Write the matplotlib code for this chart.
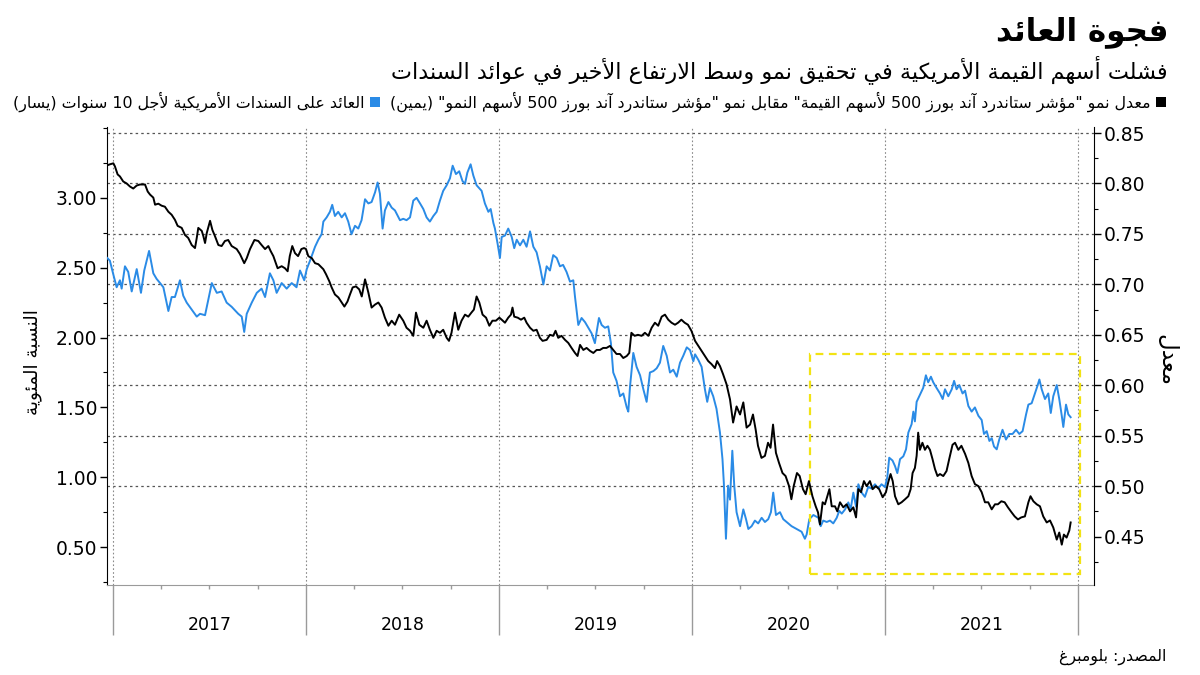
import re
import matplotlib
matplotlib.use("Agg")
import matplotlib.pyplot as plt
from matplotlib.patches import Rectangle
from matplotlib.lines import Line2D
from matplotlib.transforms import blended_transform_factory
from matplotlib.ticker import MultipleLocator, FormatStrFormatter

W, H = 1200, 675

# time is in decimal years
blue_time = [
    2016.970, 2016.984, 2017.002, 2017.019, 2017.036, 2017.045, 2017.062, 2017.079, 2017.097, 2017.123,
    2017.145, 2017.162, 2017.187, 2017.209, 2017.226, 2017.244, 2017.261, 2017.287, 2017.304, 2017.321,
    2017.347, 2017.364, 2017.382, 2017.408, 2017.434, 2017.451, 2017.477, 2017.512, 2017.538, 2017.563,
    2017.589, 2017.615, 2017.649, 2017.667, 2017.680, 2017.693, 2017.719, 2017.745, 2017.770, 2017.788,
    2017.813, 2017.831, 2017.848, 2017.874, 2017.900, 2017.926, 2017.951, 2017.969, 2017.991, 2018.004,
    2018.021, 2018.047, 2018.064, 2018.081, 2018.090, 2018.107, 2018.124, 2018.136, 2018.150, 2018.167,
    2018.185, 2018.202, 2018.219, 2018.236, 2018.254, 2018.271, 2018.288, 2018.306, 2018.323, 2018.340,
    2018.358, 2018.371, 2018.383, 2018.397, 2018.409, 2018.427, 2018.444, 2018.461, 2018.487, 2018.504,
    2018.521, 2018.539, 2018.556, 2018.573, 2018.591, 2018.608, 2018.625, 2018.642, 2018.660, 2018.677,
    2018.694, 2018.711, 2018.729, 2018.746, 2018.760, 2018.777, 2018.794, 2018.811, 2018.824, 2018.836,
    2018.853, 2018.867, 2018.884, 2018.910, 2018.927, 2018.945, 2018.957, 2018.971, 2018.979, 2018.993,
    2019.005, 2019.014, 2019.031, 2019.048, 2019.066, 2019.079, 2019.092, 2019.109, 2019.126, 2019.143,
    2019.161, 2019.178, 2019.195, 2019.212, 2019.230, 2019.247, 2019.264, 2019.281, 2019.299, 2019.316,
    2019.332, 2019.350, 2019.368, 2019.385, 2019.394, 2019.411, 2019.428, 2019.446, 2019.463, 2019.480,
    2019.497, 2019.506, 2019.518, 2019.532, 2019.549, 2019.566, 2019.580, 2019.592, 2019.609, 2019.627,
    2019.644, 2019.662, 2019.670, 2019.679, 2019.696, 2019.713, 2019.731, 2019.748, 2019.765, 2019.782,
    2019.800, 2019.817, 2019.834, 2019.851, 2019.869, 2019.886, 2019.903, 2019.921, 2019.938, 2019.955,
    2019.973, 2019.990, 2020.007, 2020.016, 2020.033, 2020.050, 2020.067, 2020.079, 2020.093, 2020.110,
    2020.127, 2020.145, 2020.158, 2020.165, 2020.176, 2020.187, 2020.197, 2020.209, 2020.219, 2020.231,
    2020.249, 2020.266, 2020.280, 2020.292, 2020.309, 2020.326, 2020.343, 2020.361, 2020.378, 2020.395,
    2020.409, 2020.421, 2020.435, 2020.456, 2020.473, 2020.490, 2020.516, 2020.542, 2020.568, 2020.585,
    2020.594, 2020.608, 2020.629, 2020.655, 2020.667, 2020.680, 2020.698, 2020.715, 2020.732, 2020.750,
    2020.763, 2020.776, 2020.793, 2020.810, 2020.822, 2020.836, 2020.850, 2020.862, 2020.879, 2020.896,
    2020.913, 2020.930, 2020.948, 2020.965, 2020.982, 2021.000, 2021.012, 2021.022, 2021.039, 2021.052,
    2021.064, 2021.078, 2021.095, 2021.109, 2021.121, 2021.138, 2021.147, 2021.155, 2021.164, 2021.181,
    2021.198, 2021.212, 2021.224, 2021.238, 2021.250, 2021.267, 2021.285, 2021.299, 2021.311, 2021.328,
    2021.346, 2021.358, 2021.371, 2021.385, 2021.402, 2021.415, 2021.432, 2021.449, 2021.466, 2021.484,
    2021.501, 2021.513, 2021.527, 2021.541, 2021.553, 2021.565, 2021.579, 2021.592, 2021.609, 2021.627,
    2021.644, 2021.661, 2021.679, 2021.696, 2021.713, 2021.731, 2021.743, 2021.760, 2021.777, 2021.789,
    2021.800, 2021.812, 2021.829, 2021.846, 2021.859, 2021.872, 2021.890, 2021.903, 2021.916, 2021.924,
    2021.938, 2021.950, 2021.962,
]
# US 10-year yield, %, left axis
blue_yield = [
    2.57, 2.55, 2.45, 2.36, 2.41, 2.35, 2.51, 2.47, 2.33, 2.49,
    2.32, 2.48, 2.62, 2.46, 2.42, 2.39, 2.36, 2.19, 2.29, 2.29,
    2.41, 2.30, 2.25, 2.20, 2.15, 2.17, 2.16, 2.39, 2.32, 2.33,
    2.25, 2.22, 2.17, 2.15, 2.04, 2.17, 2.25, 2.32, 2.35, 2.29,
    2.46, 2.41, 2.32, 2.39, 2.35, 2.39, 2.36, 2.48, 2.41, 2.49,
    2.55, 2.65, 2.70, 2.74, 2.83, 2.86, 2.90, 2.95, 2.87, 2.90,
    2.86, 2.89, 2.83, 2.74, 2.80, 2.78, 2.84, 2.99, 2.96, 2.97,
    3.04, 3.11, 3.03, 2.78, 2.91, 2.97, 2.93, 2.91, 2.84, 2.85,
    2.84, 2.86, 2.98, 3.00, 2.96, 2.92, 2.86, 2.83, 2.87, 2.90,
    2.98, 3.05, 3.09, 3.14, 3.23, 3.17, 3.19, 3.12, 3.10, 3.18,
    3.24, 3.16, 3.09, 3.05, 2.96, 2.90, 2.92, 2.82, 2.78, 2.67,
    2.57, 2.72, 2.73, 2.78, 2.72, 2.64, 2.70, 2.66, 2.70, 2.65,
    2.76, 2.65, 2.61, 2.51, 2.38, 2.51, 2.48, 2.59, 2.57, 2.51,
    2.52, 2.47, 2.40, 2.41, 2.29, 2.09, 2.14, 2.11, 2.07, 2.03,
    1.96, 2.04, 2.14, 2.09, 2.07, 2.08, 1.96, 1.75, 1.69, 1.58,
    1.60, 1.50, 1.47, 1.65, 1.89, 1.79, 1.73, 1.63, 1.54, 1.75,
    1.76, 1.78, 1.82, 1.94, 1.87, 1.75, 1.77, 1.72, 1.82, 1.87,
    1.93, 1.91, 1.83, 1.88, 1.84, 1.79, 1.63, 1.54, 1.64, 1.58,
    1.49, 1.32, 1.13, 0.96, 0.56, 0.94, 0.84, 1.19, 0.94, 0.75,
    0.65, 0.77, 0.70, 0.63, 0.65, 0.69, 0.67, 0.71, 0.68, 0.70,
    0.75, 0.89, 0.73, 0.75, 0.70, 0.68, 0.65, 0.63, 0.61, 0.56,
    0.59, 0.70, 0.73, 0.71, 0.65, 0.69, 0.68, 0.69, 0.67, 0.71,
    0.76, 0.74, 0.77, 0.82, 0.77, 0.89, 0.79, 0.95, 0.89, 0.86,
    0.93, 0.92, 0.95, 0.92, 0.95, 0.93, 1.00, 1.14, 1.12, 1.08,
    1.03, 1.13, 1.15, 1.20, 1.32, 1.38, 1.47, 1.40, 1.54, 1.59,
    1.64, 1.73, 1.68, 1.72, 1.68, 1.64, 1.60, 1.56, 1.63, 1.58,
    1.63, 1.69, 1.63, 1.66, 1.60, 1.62, 1.51, 1.47, 1.50, 1.44,
    1.41, 1.31, 1.33, 1.26, 1.28, 1.22, 1.20, 1.27, 1.34, 1.27,
    1.31, 1.31, 1.34, 1.31, 1.33, 1.45, 1.52, 1.53, 1.60, 1.65,
    1.70, 1.63, 1.56, 1.60, 1.46, 1.58, 1.66, 1.56, 1.44, 1.36,
    1.52, 1.45, 1.43,
]

black_time = [
    2016.970, 2016.984, 2017.002, 2017.010, 2017.024, 2017.036, 2017.053, 2017.071, 2017.088, 2017.105,
    2017.123, 2017.140, 2017.166, 2017.180, 2017.192, 2017.209, 2017.218, 2017.235, 2017.252, 2017.269,
    2017.287, 2017.304, 2017.321, 2017.335, 2017.356, 2017.373, 2017.390, 2017.408, 2017.425, 2017.434,
    2017.442, 2017.460, 2017.468, 2017.477, 2017.486, 2017.503, 2017.515, 2017.528, 2017.546, 2017.563,
    2017.580, 2017.597, 2017.615, 2017.641, 2017.658, 2017.680, 2017.693, 2017.710, 2017.733, 2017.753,
    2017.770, 2017.788, 2017.805, 2017.817, 2017.831, 2017.853, 2017.874, 2017.891, 2017.905, 2017.916,
    2017.929, 2017.943, 2017.959, 2017.976, 2017.990, 2018.000, 2018.012, 2018.030, 2018.047, 2018.064,
    2018.090, 2018.104, 2018.121, 2018.133, 2018.150, 2018.168, 2018.185, 2018.199, 2018.215, 2018.228,
    2018.242, 2018.259, 2018.276, 2018.289, 2018.306, 2018.323, 2018.340, 2018.358, 2018.375, 2018.392,
    2018.409, 2018.427, 2018.444, 2018.461, 2018.483, 2018.504, 2018.521, 2018.539, 2018.556, 2018.570,
    2018.587, 2018.608, 2018.625, 2018.642, 2018.660, 2018.677, 2018.694, 2018.711, 2018.729, 2018.741,
    2018.754, 2018.772, 2018.789, 2018.806, 2018.824, 2018.841, 2018.857, 2018.870, 2018.884, 2018.898,
    2018.915, 2018.933, 2018.950, 2018.966, 2018.984, 2019.002, 2019.014, 2019.031, 2019.048, 2019.062,
    2019.070, 2019.079, 2019.097, 2019.114, 2019.131, 2019.143, 2019.161, 2019.178, 2019.195, 2019.212,
    2019.226, 2019.247, 2019.264, 2019.281, 2019.293, 2019.307, 2019.324, 2019.342, 2019.359, 2019.376,
    2019.394, 2019.407, 2019.420, 2019.437, 2019.454, 2019.472, 2019.489, 2019.506, 2019.523, 2019.540,
    2019.557, 2019.575, 2019.592, 2019.609, 2019.627, 2019.644, 2019.662, 2019.675, 2019.686, 2019.703,
    2019.720, 2019.739, 2019.756, 2019.774, 2019.791, 2019.808, 2019.825, 2019.843, 2019.860, 2019.877,
    2019.894, 2019.912, 2019.928, 2019.945, 2019.962, 2019.979, 2019.997, 2020.016, 2020.033, 2020.050,
    2020.067, 2020.084, 2020.101, 2020.119, 2020.130, 2020.145, 2020.161, 2020.179, 2020.197, 2020.213,
    2020.231, 2020.249, 2020.266, 2020.283, 2020.301, 2020.316, 2020.330, 2020.342, 2020.360, 2020.378,
    2020.394, 2020.407, 2020.420, 2020.435, 2020.451, 2020.469, 2020.485, 2020.503, 2020.515, 2020.527,
    2020.544, 2020.558, 2020.575, 2020.589, 2020.606, 2020.624, 2020.641, 2020.653, 2020.663, 2020.677,
    2020.689, 2020.701, 2020.712, 2020.724, 2020.741, 2020.753, 2020.767, 2020.784, 2020.801, 2020.819,
    2020.836, 2020.850, 2020.862, 2020.876, 2020.891, 2020.905, 2020.922, 2020.936, 2020.953, 2020.970,
    2020.988, 2021.005, 2021.017, 2021.029, 2021.040, 2021.052, 2021.069, 2021.086, 2021.104, 2021.121,
    2021.133, 2021.143, 2021.155, 2021.164, 2021.172, 2021.181, 2021.194, 2021.207, 2021.220, 2021.233,
    2021.246, 2021.259, 2021.272, 2021.285, 2021.302, 2021.319, 2021.333, 2021.350, 2021.363, 2021.380,
    2021.396, 2021.415, 2021.432, 2021.449, 2021.466, 2021.484, 2021.501, 2021.518, 2021.535, 2021.553,
    2021.570, 2021.585, 2021.603, 2021.620, 2021.637, 2021.656, 2021.672, 2021.689, 2021.706, 2021.725,
    2021.743, 2021.754, 2021.769, 2021.786, 2021.803, 2021.820, 2021.838, 2021.855, 2021.872, 2021.890,
    2021.903, 2021.916, 2021.927, 2021.941, 2021.955, 2021.962,
]
# S&P 500 value vs growth ratio, right axis
black_ratio = [
    0.818, 0.819, 0.820, 0.817, 0.809, 0.807, 0.802, 0.800, 0.797, 0.795,
    0.798, 0.799, 0.799, 0.792, 0.789, 0.786, 0.779, 0.780, 0.778, 0.777,
    0.772, 0.769, 0.764, 0.758, 0.756, 0.749, 0.746, 0.739, 0.736, 0.746,
    0.756, 0.753, 0.748, 0.741, 0.751, 0.763, 0.754, 0.748, 0.739, 0.738,
    0.743, 0.744, 0.738, 0.735, 0.730, 0.721, 0.726, 0.735, 0.744, 0.743,
    0.739, 0.735, 0.738, 0.733, 0.728, 0.716, 0.718, 0.716, 0.713, 0.728,
    0.738, 0.731, 0.728, 0.735, 0.736, 0.735, 0.728, 0.726, 0.721, 0.720,
    0.715, 0.710, 0.703, 0.697, 0.690, 0.687, 0.682, 0.678, 0.683, 0.690,
    0.697, 0.698, 0.695, 0.688, 0.705, 0.692, 0.677, 0.680, 0.682, 0.677,
    0.667, 0.659, 0.664, 0.660, 0.670, 0.664, 0.657, 0.654, 0.649, 0.672,
    0.660, 0.657, 0.664, 0.655, 0.647, 0.654, 0.652, 0.655, 0.647, 0.644,
    0.652, 0.672, 0.655, 0.664, 0.670, 0.668, 0.672, 0.675, 0.688, 0.682,
    0.670, 0.667, 0.659, 0.664, 0.664, 0.667, 0.665, 0.662, 0.667, 0.670,
    0.677, 0.668, 0.667, 0.665, 0.667, 0.662, 0.657, 0.654, 0.655, 0.647,
    0.644, 0.645, 0.650, 0.649, 0.654, 0.647, 0.649, 0.645, 0.642, 0.637,
    0.632, 0.629, 0.640, 0.635, 0.637, 0.634, 0.632, 0.635, 0.635, 0.637,
    0.637, 0.639, 0.635, 0.631, 0.631, 0.627, 0.629, 0.632, 0.652, 0.649,
    0.650, 0.649, 0.652, 0.649, 0.657, 0.662, 0.659, 0.668, 0.670, 0.665,
    0.662, 0.660, 0.662, 0.665, 0.662, 0.660, 0.654, 0.644, 0.639, 0.634,
    0.629, 0.624, 0.621, 0.617, 0.624, 0.619, 0.611, 0.601, 0.586, 0.563,
    0.579, 0.571, 0.583, 0.558, 0.561, 0.571, 0.556, 0.540, 0.528, 0.530,
    0.543, 0.538, 0.561, 0.533, 0.523, 0.513, 0.510, 0.500, 0.487, 0.500,
    0.513, 0.510, 0.497, 0.492, 0.505, 0.490, 0.480, 0.474, 0.462, 0.484,
    0.482, 0.490, 0.497, 0.480, 0.480, 0.475, 0.484, 0.479, 0.482, 0.475,
    0.479, 0.469, 0.497, 0.494, 0.505, 0.500, 0.505, 0.497, 0.500, 0.497,
    0.489, 0.494, 0.504, 0.512, 0.505, 0.490, 0.482, 0.484, 0.487, 0.490,
    0.497, 0.513, 0.518, 0.530, 0.553, 0.536, 0.543, 0.536, 0.540, 0.536,
    0.527, 0.517, 0.510, 0.512, 0.510, 0.515, 0.527, 0.541, 0.543, 0.536,
    0.540, 0.532, 0.523, 0.510, 0.502, 0.500, 0.494, 0.484, 0.484, 0.477,
    0.482, 0.482, 0.485, 0.484, 0.479, 0.474, 0.470, 0.467, 0.469, 0.470,
    0.484, 0.490, 0.485, 0.482, 0.480, 0.470, 0.464, 0.466, 0.459, 0.447,
    0.454, 0.442, 0.452, 0.449, 0.456, 0.464,
]

years = [2017, 2018, 2019, 2020, 2021]
left_ticks = [0.5, 1.0, 1.5, 2.0, 2.5, 3.0]
right_ticks = [0.45, 0.50, 0.55, 0.60, 0.65, 0.70, 0.75, 0.80, 0.85]
right_grid = [0.50, 0.55, 0.60, 0.65, 0.70, 0.75, 0.80, 0.85]

# highlighted window (dashed yellow box), right-axis units
box_start, box_end = 2020.611, 2022.010
box_low, box_high = 0.413, 0.6305

title = "فجوة العائد"
subtitle = "فشلت أسهم القيمة الأمريكية في تحقيق نمو وسط الارتفاع الأخير في عوائد السندات"
black_label = 'معدل نمو "مؤشر ستاندرد آند بورز 500 لأسهم القيمة" مقابل نمو "مؤشر ستاندرد آند بورز 500 لأسهم النمو" (يمين)'
blue_label = "العائد على السندات الأمريكية لأجل 10 سنوات (يسار)"
left_ylabel = "النسبة المئوية"
right_ylabel = "معدل"
source = "المصدر: بلومبرغ"

BLUE = "#2a8be6"

# --- minimal Arabic shaping (matplotlib 3.10 does no shaping / bidi) ---
# letter -> (isolated form code point, joining type: 0 none, 1 right, 2 dual)
AR = {
    'ء': (0xFE80, 0), 'آ': (0xFE81, 1), 'أ': (0xFE83, 1), 'ؤ': (0xFE85, 1), 'إ': (0xFE87, 1),
    'ئ': (0xFE89, 2), 'ا': (0xFE8D, 1), 'ب': (0xFE8F, 2), 'ة': (0xFE93, 1), 'ت': (0xFE95, 2),
    'ث': (0xFE99, 2), 'ج': (0xFE9D, 2), 'ح': (0xFEA1, 2), 'خ': (0xFEA5, 2), 'د': (0xFEA9, 1),
    'ذ': (0xFEAB, 1), 'ر': (0xFEAD, 1), 'ز': (0xFEAF, 1), 'س': (0xFEB1, 2), 'ش': (0xFEB5, 2),
    'ص': (0xFEB9, 2), 'ض': (0xFEBD, 2), 'ط': (0xFEC1, 2), 'ظ': (0xFEC5, 2), 'ع': (0xFEC9, 2),
    'غ': (0xFECD, 2), 'ف': (0xFED1, 2), 'ق': (0xFED5, 2), 'ك': (0xFED9, 2), 'ل': (0xFEDD, 2),
    'م': (0xFEE1, 2), 'ن': (0xFEE5, 2), 'ه': (0xFEE9, 2), 'و': (0xFEED, 1), 'ى': (0xFEEF, 1),
    'ي': (0xFEF1, 2),
}
LAM_ALEF = {'آ': 0xFEF5, 'أ': 0xFEF7, 'إ': 0xFEF9, 'ا': 0xFEFB}


def ar(text):
    units = []
    i = 0
    while i < len(text):
        if text[i] == 'ل' and i + 1 < len(text) and text[i + 1] in LAM_ALEF:
            units.append(('LA', LAM_ALEF[text[i + 1]]))
            i += 2
        else:
            units.append(('C', text[i]))
            i += 1

    def jt(u):
        if u[0] == 'LA':
            return 1
        return AR.get(u[1], (0, -1))[1]

    out = []
    for k, u in enumerate(units):
        j = jt(u)
        jp = k > 0 and jt(units[k - 1]) == 2 and j >= 1
        jn = k + 1 < len(units) and j == 2 and jt(units[k + 1]) >= 1
        if u[0] == 'LA':
            out.append(chr(u[1] + (1 if jp else 0)))
        elif j < 0:
            out.append(u[1])
        elif j == 0:
            out.append(chr(AR[u[1]][0]))
        elif j == 1:
            out.append(chr(AR[u[1]][0] + (1 if jp else 0)))
        else:
            off = {(False, False): 0, (True, False): 1, (False, True): 2, (True, True): 3}[(jp, jn)]
            out.append(chr(AR[u[1]][0] + off))
    s = ''.join(out)[::-1]
    s = s.translate(str.maketrans('()', ')('))
    return re.sub(r'[0-9]+', lambda m: m.group(0)[::-1], s)


fig = plt.figure(figsize=(12, 6.75), dpi=100)
renderer = fig.canvas.get_renderer()
ax = fig.add_axes([107 / W, 1 - 585 / H, (1094 - 107) / W, (585 - 127) / H])
ax2 = ax.twinx()


def put_text(x, y, s, width=None, size=12, rotation=0, **kw):
    t = fig.text(x / W, 1 - y / H, ar(s), fontsize=size, family=["DejaVu Sans"], **kw)
    if width:
        w = t.get_window_extent(renderer).width
        t.set_fontsize(size * width / w)
    t.set_rotation(rotation)
    return t


# lines
ax.plot(blue_time, blue_yield, color=BLUE, lw=1.4, zorder=3)
ax2.plot(black_time, black_ratio, color="black", lw=1.4, zorder=3)

ax.set_xlim(2016.969, 2022.083)
ax.set_ylim(0.229, 3.507)
ax2.set_ylim(0.402, 0.856)

# grid
ytrans = blended_transform_factory(ax.transAxes, ax2.transData)
for v in right_grid:
    ax.add_line(Line2D([0, 1], [v, v], transform=ytrans, color="#555555", lw=0.9,
                       ls=(0, (2, 2.5)), zorder=1))
for yr in years + [years[-1] + 1]:
    ax.axvline(yr, color="#8a8a8a", lw=0.8, ls=(0, (1.5, 2)), zorder=1)

# highlight box
ax2.add_patch(Rectangle((box_start, box_low), box_end - box_start, box_high - box_low,
                        fill=False, edgecolor="#f2e313", lw=1.6, ls=(0, (3.5, 2.5)), zorder=2))

# axes styling
for s in ["top", "right"]:
    ax.spines[s].set_visible(False)
for s in ["top", "left", "bottom"]:
    ax2.spines[s].set_visible(False)
ax.spines["bottom"].set_color("#9a9a9a")
ax.spines["left"].set_color("black")
ax2.spines["right"].set_color("black")

ax.set_yticks(left_ticks)
ax.yaxis.set_minor_locator(MultipleLocator(0.25))
ax.yaxis.set_major_formatter(FormatStrFormatter("%.2f"))
ax2.set_yticks(right_ticks)
ax2.yaxis.set_minor_locator(MultipleLocator(0.025))
ax2.yaxis.set_major_formatter(FormatStrFormatter("%.2f"))
for a in (ax, ax2):
    a.tick_params(axis="y", which="major", length=5, width=1, labelsize=13.5, pad=2)
    a.tick_params(axis="y", which="minor", length=3, width=0.8)

ax.set_xticks(years + [years[-1] + 1])
ax.xaxis.set_minor_locator(MultipleLocator(0.25))
ax.tick_params(axis="x", which="major", length=36, width=1, color="#9a9a9a", labelbottom=False)
ax.tick_params(axis="x", which="minor", length=3, width=1, color="#9a9a9a")

xtrans = blended_transform_factory(ax.transData, ax.transAxes)
for yr in years:
    ax.text(yr + 0.5, -0.087, str(yr), transform=xtrans, ha="center", va="center", fontsize=12.5)

# texts
put_text(1168, 32, title, width=172, size=22, ha="right", va="center", fontweight="bold")
put_text(1168, 70, subtitle, width=780, size=15, ha="right", va="center")

fig.patches.append(Rectangle((1156 / W, 1 - 107 / H), 10 / W, 10 / H, transform=fig.transFigure,
                             facecolor="black", edgecolor="none"))
bl = put_text(1150, 102, black_label, width=760, size=11, ha="right", va="center")
bl_left = bl.get_window_extent(renderer).x0
fig.patches.append(Rectangle(((bl_left - 20) / W, 1 - 107 / H), 10 / W, 10 / H,
                             transform=fig.transFigure, facecolor=BLUE, edgecolor="none"))
put_text(bl_left - 25, 102, blue_label, size=bl.get_fontsize(), ha="right", va="center")

put_text(33, 362, left_ylabel, width=105, size=12, rotation=90, ha="center", va="center")
put_text(1167, 360, right_ylabel, width=52, size=12, rotation=270, ha="center", va="center")
put_text(1166, 657, source, width=107, size=11, ha="right", va="center")

fig.savefig("out.png", dpi=100)
